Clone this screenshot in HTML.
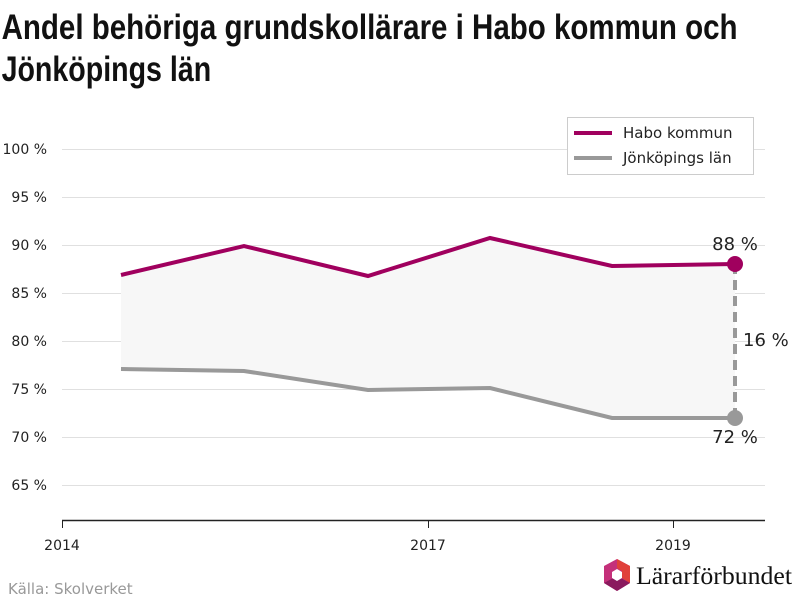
<!DOCTYPE html>
<html><head><meta charset="utf-8"><style>
body{margin:0;background:#fff;width:800px;height:600px;overflow:hidden;font-family:"Liberation Sans",sans-serif}
</style></head><body>
<svg width="800" height="600" xmlns="http://www.w3.org/2000/svg" font-family="Liberation Sans, DejaVu Sans, sans-serif">
<g transform="scale(0.8,1)">
<text x="2" y="39" font-size="35" font-weight="bold" fill="#111" textLength="920" lengthAdjust="spacingAndGlyphs">Andel behöriga grundskollärare i Habo kommun och</text>
<text x="2" y="81" font-size="35" font-weight="bold" fill="#111" textLength="262" lengthAdjust="spacingAndGlyphs">Jönköpings län</text>
</g>
<g stroke="#e0e0e0" stroke-width="1">
<line x1="62" x2="765" y1="149.5" y2="149.5"/><line x1="62" x2="765" y1="197.5" y2="197.5"/><line x1="62" x2="765" y1="245.5" y2="245.5"/><line x1="62" x2="765" y1="293.5" y2="293.5"/><line x1="62" x2="765" y1="341.5" y2="341.5"/><line x1="62" x2="765" y1="389.5" y2="389.5"/><line x1="62" x2="765" y1="437.5" y2="437.5"/><line x1="62" x2="765" y1="485.5" y2="485.5"/>
</g>
<g font-size="14" fill="#222" text-anchor="end" font-family="DejaVu Sans, sans-serif">
<text x="47" y="154">100 %</text><text x="47" y="202">95 %</text><text x="47" y="250">90 %</text><text x="47" y="298">85 %</text><text x="47" y="346">80 %</text><text x="47" y="394">75 %</text><text x="47" y="442">70 %</text><text x="47" y="490">65 %</text>
</g>
<polygon points="121,275 244,246 368,276 490,238 612,266 735,264 735,418 612,418 490,388 368,390 244,371 121,369" fill="#f7f7f7"/>
<polyline points="121,369 244,371 368,390 490,388 612,418 735,418" fill="none" stroke="#999" stroke-width="4"/>
<polyline points="121,275 244,246 368,276 490,238 612,266 735,264" fill="none" stroke="#a0005e" stroke-width="4"/>
<line x1="735" y1="264" x2="735" y2="418" stroke="#999" stroke-width="4" stroke-dasharray="10,6"/>
<circle cx="735" cy="264" r="8" fill="#a0005e"/>
<circle cx="735" cy="418" r="8" fill="#999"/>
<g font-family="DejaVu Sans, sans-serif">
<text x="735" y="250" font-size="18" text-anchor="middle" fill="#222">88 %</text>
<text x="735" y="443" font-size="18" text-anchor="middle" fill="#222">72 %</text>
<text x="743" y="346" font-size="18" fill="#222">16 %</text>
</g>
<line x1="62" x2="765" y1="520.5" y2="520.5" stroke="#222" stroke-width="1.5"/>
<g stroke="#222"><line x1="62.5" x2="62.5" y1="520" y2="528"/><line x1="428.5" x2="428.5" y1="520" y2="528"/><line x1="673.5" x2="673.5" y1="520" y2="528"/></g>
<g font-size="14" fill="#222" text-anchor="middle" font-family="DejaVu Sans, sans-serif"><text x="62" y="550">2014</text><text x="428" y="550">2017</text><text x="673" y="550">2019</text></g>
<rect x="567.5" y="117.5" width="186" height="57" fill="#fff" stroke="#ccc"/>
<line x1="574" x2="612" y1="133" y2="133" stroke="#a0005e" stroke-width="4"/>
<line x1="574" x2="612" y1="158" y2="158" stroke="#999" stroke-width="4"/>
<g font-family="DejaVu Sans, sans-serif">
<text x="623" y="138" font-size="15" fill="#222">Habo kommun</text>
<text x="623" y="163" font-size="15" fill="#222">Jönköpings län</text>
<text x="8" y="594" font-size="15" fill="#999">Källa: Skolverket</text>
</g>
<polygon points="617,559 630,566 630,583 617,591 604,583 604,566" fill="#c4307a"/>
<polygon points="617,559 630,566 630,583 622,578 622,571 617,568" fill="#e0403a"/>
<polygon points="604,583 617,591 630,583 617,576" fill="#8a1a5e"/>
<polygon points="612,572 617,569 622,572 622,578 617,581 612,578" fill="#fff"/>
<text x="636" y="584" font-size="25" font-family="Liberation Serif, serif" fill="#111" textLength="156" lengthAdjust="spacingAndGlyphs">Lärarförbundet</text>
</svg>
</body></html>
